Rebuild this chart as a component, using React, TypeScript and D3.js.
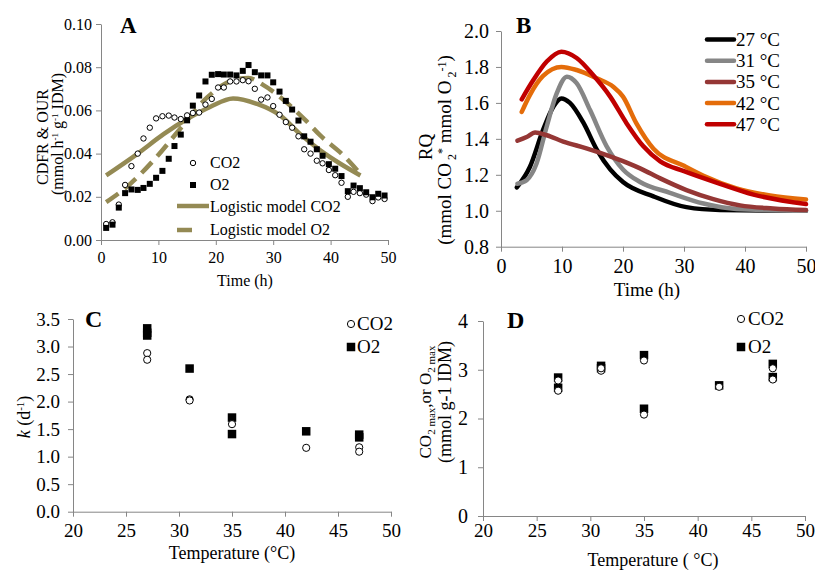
import React, { useEffect, useRef } from 'react'
import * as d3 from 'd3'

// ---- Panel A: CDFR & OUR over time ----
const timeA = [0.9, 2.0, 3.1, 4.2, 5.3, 6.4, 7.4, 8.5, 9.6, 10.7, 11.8, 12.8, 13.9, 15.0, 16.0, 17.1, 18.2, 19.3, 20.4, 21.4, 22.5, 23.6, 24.7, 25.7, 26.8, 27.9, 29.0, 30.0, 31.1, 32.2, 33.3, 34.4, 35.4, 36.5, 37.6, 38.6, 39.7, 40.8, 41.9, 43.0, 44.0, 45.1, 46.2, 47.3, 48.3, 49.4]
const co2A = [0.0074, 0.0082, 0.0164, 0.0255, 0.0342, 0.040, 0.047, 0.052, 0.0563, 0.0573, 0.0576, 0.0567, 0.056, 0.0577, 0.0588, 0.059, 0.0627, 0.0653, 0.0706, 0.0706, 0.0734, 0.0734, 0.074, 0.0735, 0.070, 0.065, 0.066, 0.062, 0.058, 0.0546, 0.052, 0.048, 0.042, 0.040, 0.0367, 0.0355, 0.0324, 0.030, 0.0265, 0.020, 0.0223, 0.0217, 0.021, 0.018, 0.0197, 0.019]
const o2A = [0.0056, 0.0071, 0.015, 0.0217, 0.0234, 0.0232, 0.0241, 0.026, 0.0288, 0.032, 0.0376, 0.0435, 0.0488, 0.0554, 0.0622, 0.0669, 0.0734, 0.0765, 0.0768, 0.0766, 0.0766, 0.0762, 0.0783, 0.081, 0.0777, 0.0762, 0.0762, 0.073, 0.0687, 0.0644, 0.0604, 0.0553, 0.048, 0.0455, 0.042, 0.039, 0.0351, 0.033, 0.0296, 0.0226, 0.0252, 0.024, 0.0221, 0.0198, 0.0214, 0.0206]
const modelCO2Time = [0.9, 6.4, 10.9, 15, 19, 23, 27.2, 31.2, 34.7, 38.2, 41.7, 45.2]
const modelCO2 = [0.0299, 0.040, 0.049, 0.056, 0.0616, 0.0655, 0.063, 0.0577, 0.049, 0.0415, 0.0353, 0.0299]
const modelO2Time = [0.9, 5.1, 9.2, 13.8, 18.5, 23, 25.7, 28.3, 32.4, 35.8, 38.2, 42.3, 45.2]
const modelO2 = [0.0175, 0.026, 0.037, 0.0515, 0.066, 0.074, 0.075, 0.0717, 0.0635, 0.055, 0.0484, 0.039, 0.0306]

// ---- Panel B: RQ curves per temperature ----
const rqSeries = [
  { label: '27 °C', color: '#000000',
    t: [2.6, 4.75, 6.9, 8.6, 9.9, 11.3, 13.5, 15.7, 17.9, 20, 25, 30.4, 35.9, 50],
    v: [1.13, 1.245, 1.45, 1.58, 1.625, 1.6, 1.49, 1.34, 1.23, 1.16, 1.08, 1.02, 1.004, 1.0] },
  { label: '31 °C', color: '#868686',
    t: [2.7, 4.2, 5.8, 7.5, 9.1, 10.8, 12.4, 14.6, 17.3, 20, 22.8, 27.7, 33.2, 38.6, 50],
    v: [1.15, 1.17, 1.26, 1.47, 1.65, 1.746, 1.71, 1.56, 1.36, 1.23, 1.16, 1.1, 1.04, 1.01, 1.0] },
  { label: '35 °C', color: '#953735',
    t: [2.7, 4.2, 5.6, 7.5, 10.2, 14, 17.3, 20.6, 22.8, 26.1, 30.4, 34.8, 39.2, 44.6, 50],
    v: [1.39, 1.41, 1.435, 1.42, 1.385, 1.347, 1.31, 1.268, 1.236, 1.18, 1.115, 1.065, 1.03, 1.013, 1.004] },
  { label: '42 °C', color: '#E46C0A',
    t: [3.4, 4.75, 6.9, 9.9, 12.4, 15.7, 18.4, 20, 22.2, 25, 30, 33.2, 38.6, 44.1, 50],
    v: [1.55, 1.645, 1.75, 1.80, 1.783, 1.737, 1.69, 1.635, 1.486, 1.345, 1.25, 1.195, 1.125, 1.085, 1.062] },
  { label: '47 °C', color: '#C00000',
    t: [3.4, 5.3, 7.5, 9.9, 12.4, 15.1, 17.9, 20.6, 23.3, 26.1, 30, 35.9, 41.4, 50],
    v: [1.62, 1.727, 1.83, 1.885, 1.85, 1.755, 1.635, 1.486, 1.36, 1.275, 1.22, 1.15, 1.09, 1.037] },
]

// ---- Panel C: k vs temperature ----
const tempKCO2 = [27, 27, 31, 31, 35, 42, 47, 47]
const kCO2 = [2.88, 2.76, 2.04, 2.02, 1.59, 1.16, 1.17, 1.09]
const tempKO2 = [27, 27, 27, 31, 35, 35, 42, 47, 47]
const kO2 = [3.33, 3.25, 3.2, 2.6, 1.71, 1.41, 1.46, 1.4, 1.35]

// ---- Panel D: max vs temperature ----
const tempMaxCO2 = [27, 27, 31, 31, 35, 35, 42, 47, 47]
const maxCO2 = [2.57, 2.78, 2.98, 3.03, 3.19, 2.08, 2.65, 3.03, 2.8]
const tempMaxO2 = [27, 27, 31, 31, 35, 35, 42, 47, 47]
const maxO2 = [2.84, 2.63, 3.08, 3.03, 3.3, 2.2, 2.68, 3.12, 2.85]

const FONT = "'Liberation Serif', 'Times New Roman', serif"
const AXIS = '#868686'
const OLIVE = '#948A54'

function Axis({ axis, transform, fontSize }: any) {
  const ref = useRef<SVGGElement>(null)
  useEffect(() => {
    const g = d3.select(ref.current)
    g.call(axis)
    g.attr('font-family', null).attr('font-size', null)
    g.select('.domain').attr('stroke', AXIS)
    g.selectAll('.tick line').attr('stroke', AXIS)
    g.selectAll<SVGTextElement, unknown>('text').each(function () {
      this.setAttribute('fill', '#000')
      this.setAttribute('style', `font-family: ${FONT}; font-size: ${fontSize}px;`)
    })
  })
  return <g ref={ref} transform={transform} />
}

export default function App() {
  // scales
  const xA = d3.scaleLinear().domain([0, 50]).range([101, 388])
  const yA = d3.scaleLinear().domain([0, 0.1]).range([240, 24])
  const xB = d3.scaleLinear().domain([0, 50]).range([501, 806])
  const yB = d3.scaleLinear().domain([0.8, 2.0]).range([246.7, 31])
  const xC = d3.scaleLinear().domain([20, 50]).range([73, 391])
  const yC = d3.scaleLinear().domain([0, 3.5]).range([511.7, 319])
  const xD = d3.scaleLinear().domain([20, 50]).range([483, 805])
  const yD = d3.scaleLinear().domain([0, 4]).range([516, 321])

  const lineA = d3.line<[number, number]>()
    .x(d => xA(d[0])).y(d => yA(d[1]))
    .curve(d3.curveMonotoneX)
  const lineB = d3.line<[number, number]>()
    .x(d => xB(d[0])).y(d => yB(d[1]))
    .curve(d3.curveMonotoneX)

  const zip = (a: number[], b: number[]) => a.map((v, i) => [v, b[i]] as [number, number])

  const circle = (x: number, y: number, r: number, key: any) =>
    <circle key={key} cx={x} cy={y} r={r} fill="#fff" stroke="#000" strokeWidth={1} />
  const square = (x: number, y: number, s: number, key: any) =>
    <rect key={key} x={x - s / 2} y={y - s / 2} width={s} height={s} fill="#000" />

  const txt = { fontFamily: FONT, fill: '#000' }

  return (
    <svg width={815} height={570} style={{ position: 'absolute', left: 0, top: 0, background: '#fff', fontFamily: FONT }}>
      {/* ================= A ================= */}
      <Axis axis={d3.axisLeft(yA).tickValues([0, 0.02, 0.04, 0.06, 0.08, 0.1]).tickFormat(d3.format('.2f')).tickSize(5).tickSizeOuter(0).tickPadding(4)} transform="translate(101,0)" fontSize={16} />
      <Axis axis={d3.axisBottom(xA).tickValues([0, 10, 20, 30, 40, 50]).tickFormat(d3.format('d')).tickSize(5).tickSizeOuter(0).tickPadding(7)} transform="translate(0,240)" fontSize={16} />
      <path d={lineA(zip(modelCO2Time, modelCO2)) || ''} fill="none" stroke={OLIVE} strokeWidth={4.5} />
      <path d={lineA(zip(modelO2Time, modelO2)) || ''} fill="none" stroke={OLIVE} strokeWidth={4.5} strokeDasharray="15 8" />
      {timeA.map((t, i) => circle(xA(t), yA(co2A[i]), 2.7, 'ac' + i))}
      {timeA.map((t, i) => square(xA(t), yA(o2A[i]), 6, 'ao' + i))}
      <text x={120} y={33} style={{ ...txt, fontSize: 23, fontWeight: 'bold' }}>A</text>
      <text x={245} y={286} textAnchor="middle" style={{ ...txt, fontSize: 16 }}>Time (h)</text>
      <text transform="translate(48,137) rotate(-90)" textAnchor="middle" style={{ ...txt, fontSize: 16 }}>CDFR &amp; OUR</text>
      <text transform="translate(63,134) rotate(-90)" textAnchor="middle" style={{ ...txt, fontSize: 16 }}>
        (mmol h<tspan dy={-5} fontSize={9}>-1</tspan><tspan dy={5}> g</tspan><tspan dy={-5} fontSize={9}>-1</tspan><tspan dy={5}> IDM)</tspan>
      </text>
      {/* legend A */}
      {circle(193, 163, 2.7, 'lc')}
      <text x={210} y={168} style={{ ...txt, fontSize: 16 }}>CO2</text>
      {square(193, 185, 6, 'ls')}
      <text x={210} y={190} style={{ ...txt, fontSize: 16 }}>O2</text>
      <line x1={177} x2={209} y1={206} y2={206} stroke={OLIVE} strokeWidth={4.5} />
      <text x={210} y={212} style={{ ...txt, fontSize: 16 }}>Logistic model CO2</text>
      <line x1={177} x2={192} y1={230} y2={230} stroke={OLIVE} strokeWidth={4.5} />
      <text x={210} y={235} style={{ ...txt, fontSize: 16 }}>Logistic model O2</text>

      {/* ================= B ================= */}
      <Axis axis={d3.axisLeft(yB).tickValues([0.8, 1.0, 1.2, 1.4, 1.6, 1.8, 2.0]).tickFormat(d3.format('.1f')).tickSize(5).tickSizeOuter(0).tickPadding(7)} transform="translate(501,0)" fontSize={20} />
      <Axis axis={d3.axisBottom(xB).tickValues([0, 10, 20, 30, 40, 50]).tickFormat(d3.format('d')).tickSize(5).tickSizeOuter(0).tickPadding(7)} transform="translate(0,246.7)" fontSize={20} />
      {rqSeries.map(s => (
        <path key={s.label} d={lineB(zip(s.t, s.v)) || ''} fill="none" stroke={s.color} strokeWidth={4.5} strokeLinecap="round" />
      ))}
      {rqSeries.map((s, i) => (
        <g key={'lg' + s.label}>
          <line x1={707} x2={734} y1={39.5 + i * 21.2} y2={39.5 + i * 21.2} stroke={s.color} strokeWidth={4.5} strokeLinecap="round" />
          <text x={736} y={46 + i * 21.2} style={{ ...txt, fontSize: 19 }}>{s.label}</text>
        </g>
      ))}
      <text x={516} y={33} style={{ ...txt, fontSize: 23, fontWeight: 'bold' }}>B</text>
      <text x={647} y={296} textAnchor="middle" style={{ ...txt, fontSize: 19 }}>Time (h)</text>
      <text transform="translate(432,147) rotate(-90)" textAnchor="middle" style={{ ...txt, fontSize: 19 }}>RQ</text>
      <text transform="translate(451,150) rotate(-90)" textAnchor="middle" style={{ ...txt, fontSize: 19 }}>
        (mmol CO<tspan dy={5} fontSize={12}> 2</tspan><tspan dy={-10} fontSize={12}>*</tspan><tspan dy={5}> mmol O</tspan><tspan dy={5} fontSize={12}> 2</tspan><tspan dy={-10} fontSize={12}>-1</tspan><tspan dy={5}>)</tspan>
      </text>

      {/* ================= C ================= */}
      <Axis axis={d3.axisLeft(yC).tickValues([0, 0.5, 1, 1.5, 2, 2.5, 3, 3.5]).tickFormat(d3.format('.1f')).tickSize(5).tickSizeOuter(0).tickPadding(8)} transform="translate(73,0)" fontSize={19} />
      <Axis axis={d3.axisBottom(xC).tickValues([20, 25, 30, 35, 40, 45, 50]).tickFormat(d3.format('d')).tickSize(5).tickSizeOuter(0).tickPadding(7)} transform="translate(0,511.7)" fontSize={19} />
      {tempKO2.map((t, i) => square(xC(t), yC(kO2[i]), 8.5, 'co' + i))}
      {tempKCO2.map((t, i) => circle(xC(t), yC(kCO2[i]), 3.6, 'cc' + i))}
      <text x={85} y={327} style={{ ...txt, fontSize: 24, fontWeight: 'bold' }}>C</text>
      <text x={232} y={559} textAnchor="middle" style={{ ...txt, fontSize: 18 }}>Temperature (°C)</text>
      <text transform="translate(30,417) rotate(-90)" textAnchor="middle" style={{ ...txt, fontSize: 18 }}>
        <tspan fontStyle="italic">k</tspan> (d<tspan dy={-6} fontSize={11}>-1</tspan><tspan dy={6}>)</tspan>
      </text>
      {circle(351, 324, 3.6, 'clc')}
      <text x={357} y={330} style={{ ...txt, fontSize: 19 }}>CO2</text>
      {square(351, 347, 8.5, 'cls')}
      <text x={357} y={353} style={{ ...txt, fontSize: 19 }}>O2</text>

      {/* ================= D ================= */}
      <Axis axis={d3.axisLeft(yD).tickValues([0, 1, 2, 3, 4]).tickFormat(d3.format('d')).tickSize(5).tickSizeOuter(0).tickPadding(10)} transform="translate(483,0)" fontSize={20} />
      <Axis axis={d3.axisBottom(xD).tickValues([20, 25, 30, 35, 40, 45, 50]).tickFormat(d3.format('d')).tickSize(5).tickSizeOuter(0).tickPadding(3)} transform="translate(0,516)" fontSize={19} />
      {tempMaxO2.map((t, i) => square(xD(t), yD(maxO2[i]), 8.5, 'do' + i))}
      {tempMaxCO2.map((t, i) => circle(xD(t), yD(maxCO2[i]), 3.6, 'dc' + i))}
      <text x={507} y={328} style={{ ...txt, fontSize: 24, fontWeight: 'bold' }}>D</text>
      <text x={653} y={566} textAnchor="middle" style={{ ...txt, fontSize: 18 }}>Temperature ( °C)</text>
      <text transform="translate(431,402) rotate(-90)" textAnchor="middle" style={{ ...txt, fontSize: 17 }}>
        CO<tspan dy={4} fontSize={11}>2 max</tspan><tspan dy={-4}>,or O</tspan><tspan dy={4} fontSize={11}>2 max</tspan>
      </text>
      <text transform="translate(451,402) rotate(-90)" textAnchor="middle" style={{ ...txt, fontSize: 18 }}>(mmol g-1 IDM)</text>
      {circle(741, 319, 3.6, 'dlc')}
      <text x={748} y={325} style={{ ...txt, fontSize: 19 }}>CO2</text>
      {square(741, 347, 8.5, 'dls')}
      <text x={748} y={353} style={{ ...txt, fontSize: 19 }}>O2</text>
    </svg>
  )
}
